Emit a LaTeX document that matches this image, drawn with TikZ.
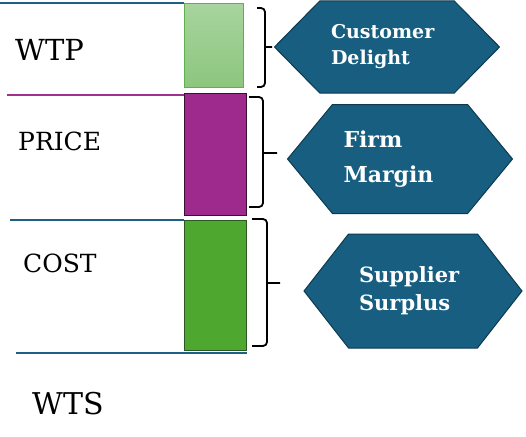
\documentclass[tikz,border=0pt]{standalone}
\usepackage{fontspec}
\setmainfont{DejaVu Serif}
\usetikzlibrary{shapes.symbols}
\definecolor{hexblue}{RGB}{23,94,128}
\definecolor{hexedge}{RGB}{14,58,80}
\definecolor{lineblue}{RGB}{31,95,133}
\definecolor{linemag}{RGB}{160,48,143}
\definecolor{wtpgreen}{RGB}{168,212,157}
\definecolor{wtpgreenb}{RGB}{140,198,126}
\definecolor{wtpedge}{RGB}{96,176,78}
\definecolor{marginpurple}{RGB}{158,42,142}
\definecolor{marginedge}{RGB}{58,16,52}
\definecolor{costgreen}{RGB}{78,167,46}
\definecolor{costedge}{RGB}{42,88,34}
\tikzset{
  bar/.style={rectangle, draw, line width=1pt, anchor=north west, inner sep=0pt},
  hexa/.style={signal, signal to=east and west, draw=hexedge, line width=1pt,
    fill=hexblue, text=white, font=\bfseries, align=left, inner sep=0pt},
  lvl/.style={anchor=base west, inner sep=0pt},
  rule/.style={line width=1.5pt},
  bracket/.style={line width=1.8pt, rounded corners=4pt}
}
\begin{document}
\begin{tikzpicture}[x=1pt,y=-1pt]
\useasboundingbox (0,0) rectangle (526,436);
% value bars
\node[bar, draw=wtpedge, top color=wtpgreen, bottom color=wtpgreenb,
  minimum width=59pt, minimum height=84pt] (wtpbar) at (184,3){};
\node[bar, draw=marginedge, fill=marginpurple,
  minimum width=62pt, minimum height=122pt] (pricebar) at (184,93){};
\node[bar, draw=costedge, fill=costgreen,
  minimum width=62pt, minimum height=130pt] (costbar) at (184,220){};
% level lines
\draw[rule, lineblue] (0,3) -- (wtpbar.north west);
\draw[rule, linemag] (7,95) -- (184,95);
\draw[rule, lineblue] (10,220) -- (costbar.north west);
\draw[rule, lineblue] (16,353) -- (247,353);
% levels
\node[lvl, font=\fontsize{29}{34}\selectfont] (wtp) at (15,60){WTP};
\node[lvl, font=\fontsize{25}{30}\selectfont] (price) at (18,150){PRICE};
\node[lvl, font=\fontsize{25}{30}\selectfont] (cost) at (23,272){COST};
\node[lvl, font=\fontsize{30}{36}\selectfont] (wts) at (32,414){WTS};
% brackets
\draw[bracket] (257,8) -- (265,8) -- (265,87) -- (257,87) (265,47) -- (272,47);
\draw[bracket] (249,97) -- (263,97) -- (263,207) -- (249,207) (263,153) -- (277,153);
\draw[bracket] (252,219) -- (267,219) -- (267,346) -- (252,346) (267,283) -- (280,283);
% surplus parts
\node[hexa, signal pointer angle=91, minimum width=225pt, minimum height=92pt,
  text width=112pt, font=\bfseries\fontsize{19}{26}\selectfont] (cd) at (387,47){Customer\\Delight};
\node[hexa, signal pointer angle=101, minimum width=225pt, minimum height=109pt,
  text width=113pt, font=\bfseries\fontsize{22}{35}\selectfont] (fm) at (400,159){Firm\\Margin};
\node[hexa, signal pointer angle=104, minimum width=218pt, minimum height=114pt,
  text width=108pt, font=\bfseries\fontsize{21}{28}\selectfont] (ss) at (413,291){Supplier\\Surplus};
\end{tikzpicture}
\end{document}
